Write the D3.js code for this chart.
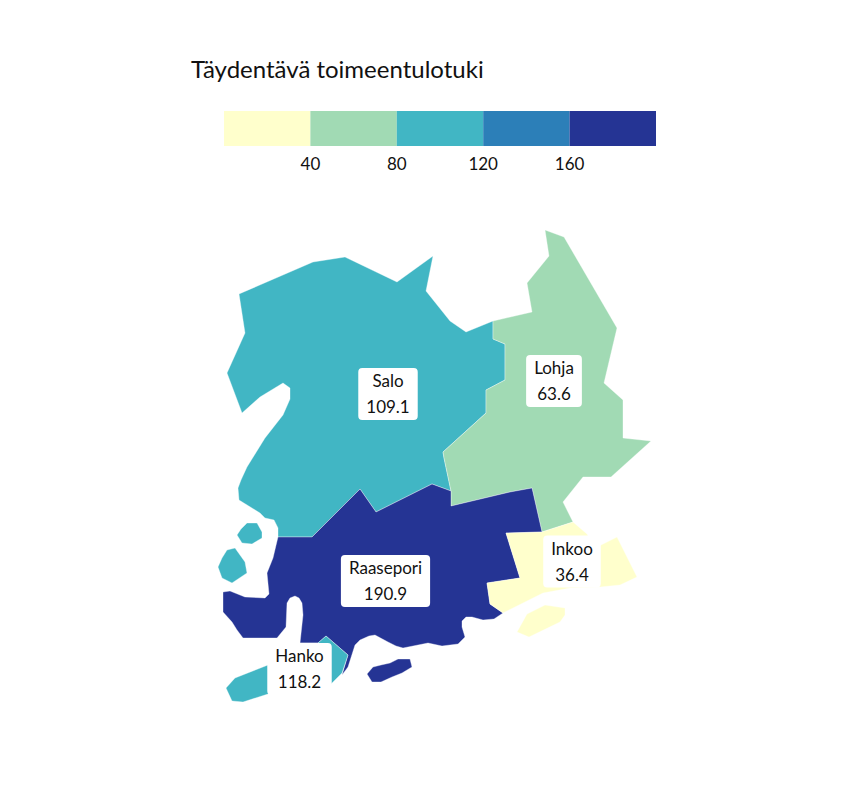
<!DOCTYPE html>
<meta charset="utf-8">
<style>

body {
  margin: 0;
  background: #fff;
}

text {
  font-family: Lato, sans-serif;
  fill: #111;
}

.title {
  font-size: 24px;
}

.tick-label {
  font-size: 17px;
  text-anchor: middle;
}

.label text {
  font-size: 17px;
  text-anchor: middle;
}

.regions path {
  stroke: #fff;
  stroke-width: 0.5px;
  stroke-opacity: 0.7;
}

</style>

<svg width="864" height="792"></svg>
<script src="https://d3js.org/d3.v7.min.js"></script>
<script>

var titleText = "Täydentävä toimeentulotuki";

// legend classes
var breaks = [40, 80, 120, 160];
var classColors = ["#ffffcc", "#a1dab4", "#41b6c4", "#2c7fb8", "#253494"];
var legendDomain = [0, 200];

// municipalities
var names = ["Salo", "Lohja", "Raasepori", "Inkoo", "Hanko"];
var values = [109.1, 63.6, 190.9, 36.4, 118.2];

var saloRings = [
  [[239,294],[313,262],[345,257],[397,282],[433,256],[426,291],[450,321],[466,332],[493,321],[493,339],[505,344],[505,380],[486,390],[486,413],[443,452],[444,458],[451,491],[432,484],[376,512],[360,489],[312,537],[278,537],[278,528],[274,520],[265,518],[260,513],[239,500],[238,488],[241,480],[247,467],[265,438],[283,415],[290,399],[290,388],[283,383],[260,397],[242,413],[227,373],[245,333]],
  [[237,535],[241,529],[247,523],[257,523],[262,532],[262,538],[252,544],[242,543]],
  [[218,567],[222,558],[227,550],[235,548],[245,562],[247,573],[232,583],[222,578]]
];
var lohjaRings = [
  [[545,230],[564,237],[617,328],[604,383],[623,400],[623,438],[651,441],[611,477],[583,477],[563,502],[573,522],[542,532],[532,488],[510,492],[451,506],[451,491],[444,458],[443,452],[486,413],[486,390],[505,380],[505,344],[493,339],[493,321],[532,312],[527,283],[549,256]]
];
var raaseporiRings = [
  [[278,537],[312,537],[360,489],[376,512],[432,484],[451,491],[451,506],[510,492],[532,488],[542,532],[506,533],[520,578],[487,583],[490,604],[503,613],[494,619],[483,620],[472,617],[466,617],[462,621],[462,627],[465,637],[458,644],[442,646],[428,643],[418,645],[403,648],[396,646],[388,642],[375,635],[369,636],[360,640],[355,645],[348,667],[342,675],[348,655],[326,636],[318,643],[300,643],[303,615],[302,603],[299,598],[295,596],[290,598],[287,603],[286,627],[277,638],[243,638],[237,630],[232,622],[223,612],[223,592],[230,591],[245,597],[265,598],[269,594],[267,573],[273,558]],
  [[367,674],[373,667],[381,665],[390,663],[398,659],[410,659],[412,667],[402,673],[392,677],[381,682],[372,682]]
];
var inkooRings = [
  [[573,522],[587,534],[595,548],[617,537],[637,577],[620,585],[600,587],[570,588],[543,593],[503,613],[490,604],[487,583],[520,578],[506,533],[542,532]],
  [[517,632],[527,614],[545,605],[565,608],[565,615],[560,622],[529,637]]
];
var hankoRings = [
  [[326,636],[348,655],[342,673],[331,684],[320,690],[300,680],[300,643],[318,643]],
  [[226,688],[235,678],[268,665],[290,672],[290,688],[268,694],[243,702],[232,701]]
];
var allRings = [saloRings, lohjaRings, raaseporiRings, inkooRings, hankoRings];

// label anchors, map units
var labelX = [388, 554, 385.5, 572, 299.5];
var labelY = [394, 381, 581, 561.5, 669];

var svg = d3.select("svg");

svg.append("text")
    .attr("class", "title")
    .attr("x", 191)
    .attr("y", 77.5)
    .text(titleText);

// legend
var legendX = d3.scaleLinear().domain(legendDomain).range([224, 656]);
var edges = [legendDomain[0]].concat(breaks, [legendDomain[1]]);

svg.append("g").selectAll("rect")
    .data(classColors)
  .enter().append("rect")
    .attr("x", function(d, i) { return legendX(edges[i]); })
    .attr("y", 111)
    .attr("width", function(d, i) { return legendX(edges[i + 1]) - legendX(edges[i]); })
    .attr("height", 35)
    .attr("fill", function(d) { return d; });

svg.append("g").selectAll("text")
    .data(breaks)
  .enter().append("text")
    .attr("class", "tick-label")
    .attr("x", function(d) { return legendX(d); })
    .attr("y", 170)
    .text(function(d) { return d; });

// map
var color = d3.scaleThreshold().domain(breaks).range(classColors);

var regions = {
  type: "FeatureCollection",
  features: names.map(function(name, i) {
    return {
      type: "Feature",
      properties: { name: name, value: values[i] },
      geometry: { type: "MultiPolygon", coordinates: allRings[i].map(function(r) { return [r.concat([r[0]])]; }) }
    };
  })
};

var projection = d3.geoIdentity().fitExtent([[218, 230], [651, 702]], regions);
var path = d3.geoPath(projection);

svg.append("g")
    .attr("class", "regions")
  .selectAll("path")
    .data(regions.features)
  .enter().append("path")
    .attr("d", path)
    .attr("fill", function(d) { return color(d.properties.value); });

// labels
var labels = svg.append("g").selectAll("g")
    .data(names)
  .enter().append("g")
    .attr("class", "label")
    .attr("transform", function(d, i) {
      return "translate(" + projection([labelX[i], labelY[i]]) + ")";
    });

var boxes = labels.append("rect")
    .attr("fill", "#fff")
    .attr("rx", 4);

labels.append("text")
    .attr("y", -7)
    .text(function(d) { return d; });

labels.append("text")
    .attr("y", 19)
    .text(function(d, i) { return values[i].toFixed(1); });

boxes.each(function() {
  var w = d3.max(d3.select(this.parentNode).selectAll("text").nodes(), function(t) {
    return t.getComputedTextLength();
  }) + 16;
  d3.select(this)
      .attr("x", -w / 2)
      .attr("y", -26)
      .attr("width", w)
      .attr("height", 52);
});

</script>
